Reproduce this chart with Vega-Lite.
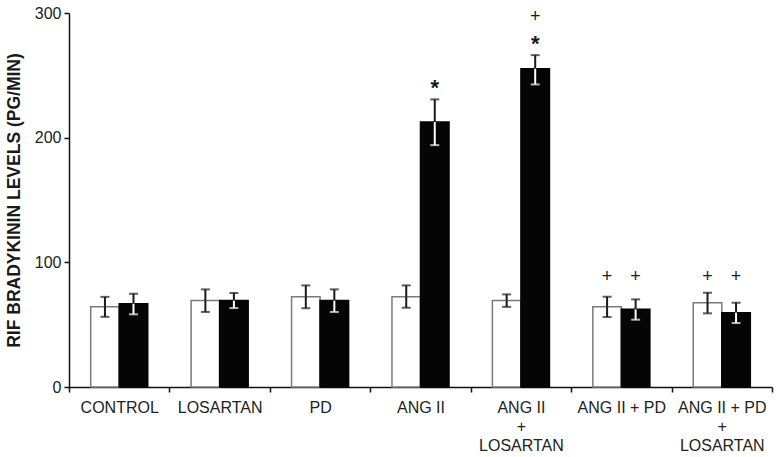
{
  "$schema": "https://vega.github.io/schema/vega-lite/v6.json",
  "width": 703,
  "height": 374,
  "autosize": {"type": "none"},
  "padding": {"left": 69, "top": 13, "right": 8, "bottom": 70},
  "background": "#ffffff",
  "config": {"view": {"stroke": null}, "font": "Liberation Sans"},
  "datasets": {
    "bars": [
      {"group": "CONTROL", "series": "A", "mean": 64.4, "lo": 56.3, "hi": 72.3},
      {"group": "CONTROL", "series": "B", "mean": 66.8, "lo": 58.3, "hi": 74.8},
      {"group": "LOSARTAN", "series": "A", "mean": 69.3, "lo": 60.2, "hi": 78.3},
      {"group": "LOSARTAN", "series": "B", "mean": 69.3, "lo": 63.3, "hi": 75.4},
      {"group": "PD", "series": "A", "mean": 72.4, "lo": 63.2, "hi": 81.5},
      {"group": "PD", "series": "B", "mean": 69.3, "lo": 60.2, "hi": 78.3},
      {"group": "ANG II", "series": "A", "mean": 72.4, "lo": 63.6, "hi": 81.5},
      {"group": "ANG II", "series": "B", "mean": 212.5, "lo": 194, "hi": 230.7},
      {"group": "ANG II|+|LOSARTAN", "series": "A", "mean": 69.3, "lo": 64.3, "hi": 74.3},
      {"group": "ANG II|+|LOSARTAN", "series": "B", "mean": 255.3, "lo": 242.7, "hi": 266.2},
      {"group": "ANG II + PD", "series": "A", "mean": 64.4, "lo": 56.1, "hi": 72.4},
      {"group": "ANG II + PD", "series": "B", "mean": 62.3, "lo": 54, "hi": 70.3},
      {"group": "ANG II + PD|+|LOSARTAN", "series": "A", "mean": 67.6, "lo": 59.1, "hi": 75.6},
      {"group": "ANG II + PD|+|LOSARTAN", "series": "B", "mean": 59.6, "lo": 51.3, "hi": 67.6}
    ],
    "marks": [
      {"group": "ANG II", "series": "B", "label": "*", "pos": 239.7},
      {"group": "ANG II|+|LOSARTAN", "series": "B", "label": "*", "pos": 274.9},
      {"group": "ANG II|+|LOSARTAN", "series": "B", "label": "+", "pos": 296.7},
      {"group": "ANG II + PD", "series": "A", "label": "+", "pos": 88.5},
      {"group": "ANG II + PD", "series": "B", "label": "+", "pos": 88.5},
      {"group": "ANG II + PD|+|LOSARTAN", "series": "A", "label": "+", "pos": 88.5},
      {"group": "ANG II + PD|+|LOSARTAN", "series": "B", "label": "+", "pos": 88.5}
    ]
  },
  "data": {"name": "bars"},
  "encoding": {
    "x": {
      "field": "group",
      "type": "nominal",
      "sort": ["CONTROL", "LOSARTAN", "PD", "ANG II", "ANG II|+|LOSARTAN", "ANG II + PD", "ANG II + PD|+|LOSARTAN"],
      "scale": {"paddingInner": 0, "paddingOuter": 0},
      "axis": {
        "title": null,
        "labelExpr": "split(datum.label, '|')",
        "labelAngle": 0,
        "labelFontSize": 16,
        "labelColor": "#222222",
        "labelPadding": 7,
        "labelLineHeight": 19,
        "tickBand": "extent",
        "tickSize": 5,
        "tickColor": "#111111",
        "tickWidth": 1.5,
        "domainColor": "#111111",
        "domainWidth": 1.5,
        "grid": false
      }
    },
    "xOffset": {
      "field": "series",
      "type": "nominal",
      "scale": {"domain": ["A", "B"], "paddingInner": 0, "paddingOuter": 0.76}
    }
  },
  "layer": [
    {
      "mark": {"type": "bar", "strokeWidth": 1.5},
      "encoding": {
        "y": {
          "field": "mean",
          "type": "quantitative",
          "scale": {"domain": [0, 300], "nice": false},
          "axis": {
            "title": "RIF BRADYKININ LEVELS (PG/MIN)",
            "titleFontSize": 17.5,
            "titleFontWeight": "bold",
            "titleColor": "#1a1a1a",
            "titlePadding": 11,
            "values": [0, 100, 200, 300],
            "labelFontSize": 16,
            "labelColor": "#222222",
            "labelPadding": 3,
            "tickSize": 5,
            "tickColor": "#111111",
            "tickWidth": 1.5,
            "domainColor": "#111111",
            "domainWidth": 1.5,
            "grid": false
          }
        },
        "fill": {"field": "series", "type": "nominal", "scale": {"domain": ["A", "B"], "range": ["#ffffff", "#050505"]}, "legend": null},
        "stroke": {"field": "series", "type": "nominal", "scale": {"domain": ["A", "B"], "range": ["#7a7a7a", "#050505"]}, "legend": null}
      }
    },
    {
      "mark": {"type": "rule", "strokeWidth": 2, "color": "#1a1a1a"},
      "encoding": {
        "y": {"field": "mean", "type": "quantitative"},
        "y2": {"field": "hi"}
      }
    },
    {
      "mark": {"type": "rule", "strokeWidth": 2},
      "encoding": {
        "y": {"field": "lo", "type": "quantitative"},
        "y2": {"field": "mean"},
        "color": {"field": "series", "type": "nominal", "scale": {"domain": ["A", "B"], "range": ["#1a1a1a", "#ffffff"]}, "legend": null}
      }
    },
    {
      "mark": {"type": "tick", "orient": "horizontal", "size": 9, "thickness": 2, "color": "#1a1a1a"},
      "encoding": {
        "y": {"field": "hi", "type": "quantitative"}
      }
    },
    {
      "mark": {"type": "tick", "orient": "horizontal", "size": 9, "thickness": 2},
      "encoding": {
        "y": {"field": "lo", "type": "quantitative"},
        "color": {"field": "series", "type": "nominal", "scale": {"domain": ["A", "B"], "range": ["#1a1a1a", "#ffffff"]}, "legend": null}
      }
    },
    {
      "data": {"name": "marks"},
      "transform": [{"filter": "datum.label == '*'"}],
      "mark": {"type": "text", "fontSize": 22, "fontWeight": "bold", "baseline": "middle", "align": "center", "color": "#1a1a1a"},
      "encoding": {
        "y": {"field": "pos", "type": "quantitative"},
        "text": {"field": "label"}
      }
    },
    {
      "data": {"name": "marks"},
      "transform": [{"filter": "datum.label == '+'"}],
      "mark": {"type": "text", "fontSize": 18, "baseline": "middle", "align": "center", "color": "#1a1a1a"},
      "encoding": {
        "y": {"field": "pos", "type": "quantitative"},
        "text": {"field": "label"}
      }
    }
  ]
}
